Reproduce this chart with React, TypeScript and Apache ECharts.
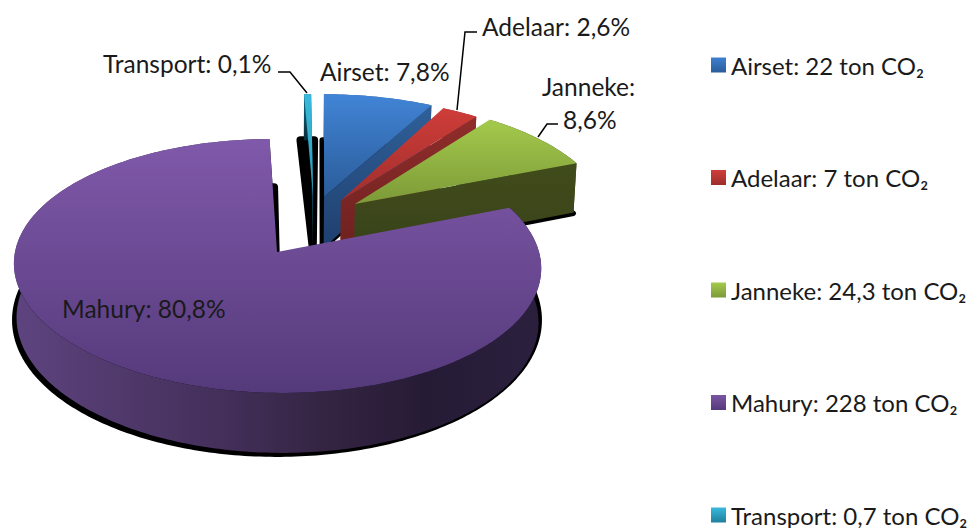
import React, { useEffect, useRef } from "react";
import * as echarts from "echarts";

const names = ["Airset", "Adelaar", "Janneke", "Mahury", "Transport"];
const tons = ["22", "7", "24,3", "228", "0,7"];
const shares = [7.8, 2.6, 8.6, 80.8, 0.1];

// explosion of each slice on the pie's plane, in radii
const offsetU = [0.18, 0.255, 0.31, 0, 0.145];
const offsetV = [0.46, 0.43, 0.4, 0, 0.46];
const skew = [5, 0, 0, -5, 0];
const minSweep = [0, 0, 0, 0, 1.8];
const shadowSweep = [0, 0, 0, 0, 3.5];
const shadowStroke = [6, 5, 5, 8, 8];
const shadowDx = [-1, -1, 0, 0, 0];
const shadowDy = [0, 0, 1, 0, 0];
const paintOrder = [1, 2, 3, 5, 4];

const topColors = [
  ["#4184d6", "#2b5c99"],
  ["#cf3d39", "#a02e2c"],
  ["#a4ca4c", "#7c9a38"],
  ["#8059aa", "#553a7b"],
  ["#38b9dc", "#2b9ab8"],
];
const wallColors = [
  ["#2f6099", "#1f3f6e"],
  ["#902d2b", "#6c2120"],
  ["#414c1b", "#38421a"],
  ["#2a1f3c", "#2a1f3c"],
  ["#11708c", "#0a2a36"],
];
const legendColors = [
  ["#3f80d0", "#2b5c99"],
  ["#cf3d39", "#9c2e2c"],
  ["#a4ca4c", "#7c9a38"],
  ["#7a55a2", "#553a7b"],
  ["#38b9dc", "#1f7f9c"],
];
const mahuryWallStops = [
  [0, "#5e4480"],
  [0.2, "#50396b"],
  [0.4, "#432f5a"],
  [0.58, "#352543"],
  [0.78, "#261b35"],
  [0.95, "#2a1f3c"],
  [1, "#2a1f3c"],
];

const CX = 277;
const CY = 252;
const RX = 262;
const RY = 125.4;
const K = 0.11;
const DEPTH = 53.4;

const rad = (d: number) => (d * Math.PI) / 180;

function project(u: number, v: number, sx: number, low: boolean) {
  const w = 1 + K * v;
  let x = CX + (RX * u + sx * v) / w;
  let y = CY - (RY * v) / w;
  if (low) {
    x = CX + (x - CX) * 0.99;
    y += DEPTH / w;
  }
  return [x, y];
}

function gradV(c: string[]) {
  return new echarts.graphic.LinearGradient(0, 0, 0, 1, [
    { offset: 0, color: c[0] },
    { offset: 1, color: c[1] },
  ]);
}

function sliceAngles(i: number, value: number) {
  let start = 0;
  for (let k = 0; k < i; k++) start += shares[k] * 3.6;
  const sweep = value * 3.6;
  const mid = start + sweep / 2;
  return { mid, sweep };
}

function arc(i: number, from: number, to: number, low: boolean, sx: number) {
  const pts: number[][] = [];
  const n = Math.max(2, Math.ceil(to - from));
  for (let s = 0; s <= n; s++) {
    const t = rad(from + ((to - from) * s) / n);
    pts.push(project(offsetU[i] + Math.sin(t), offsetV[i] + Math.cos(t), sx, low));
  }
  return pts;
}

function makeRenderItem(i: number) {
  return (_params: any, api: any) => {
    const { mid, sweep } = sliceAngles(i, api.value(0));
    const drawn = Math.max(sweep, minSweep[i]);
    const from = mid - drawn / 2;
    const to = mid + drawn / 2;
    const sx = skew[i];
    const base = paintOrder[i] * 10;

    const apexTop = project(offsetU[i], offsetV[i], sx, false);
    const apexLow = project(offsetU[i], offsetV[i], sx, true);
    const topArc = arc(i, from, to, false, sx);
    const lowArc = arc(i, from, to, true, sx);

    const sSweep = Math.max(drawn, shadowSweep[i]);
    const shadowSx = i === 3 ? 0 : sx;
    const shadowArc = arc(i, mid - sSweep / 2, mid + sSweep / 2, true, shadowSx).map((p) => [
      p[0] + shadowDx[i],
      p[1] + shadowDy[i],
    ]);
    const shadowApex = project(offsetU[i], offsetV[i], shadowSx, true);

    const wallFill =
      i === 3
        ? new echarts.graphic.LinearGradient(
            0,
            0,
            1,
            0,
            mahuryWallStops.map((s) => ({ offset: s[0] as number, color: s[1] as string }))
          )
        : gradV(wallColors[i]);

    return {
      type: "group",
      children: [
        {
          type: "polygon",
          z2: 1 + i,
          shape: { points: [[shadowApex[0] + shadowDx[i], shadowApex[1] + shadowDy[i]], ...shadowArc] },
          style: { fill: "#000", stroke: "#000", lineWidth: shadowStroke[i], lineJoin: "round" },
        },
        {
          type: "polygon",
          z2: base + 1,
          shape: { points: [...topArc, ...lowArc.slice().reverse()] },
          style: { fill: wallFill },
        },
        {
          type: "polygon",
          z2: base + 2,
          shape: { points: [topArc[topArc.length - 1], apexTop, apexLow, lowArc[lowArc.length - 1]] },
          style: { fill: i === 3 ? "#000" : gradV(wallColors[i]) },
        },
        {
          type: "polygon",
          z2: base + 3,
          shape: { points: [apexTop, ...topArc] },
          style: { fill: gradV(topColors[i]) },
        },
      ],
    };
  };
}

const labelStyle = { fontFamily: "Lato", fontSize: 24.5, fill: "#1a1a1a" };
const LINE = { stroke: "#000", lineWidth: 1.5, fill: "none" };

function pct(i: number) {
  return String(shares[i]).replace(".", ",") + "%";
}

export default function App() {
  const ref = useRef<HTMLDivElement>(null);
  useEffect(() => {
    const chart = echarts.init(ref.current!, undefined, { renderer: "svg" });
    const text = (t: string, x: number, y: number, align = "left") => ({
      type: "text",
      z: 100,
      x,
      y,
      style: { ...labelStyle, text: t, textAlign: align, textVerticalAlign: "middle" },
    });
    const leader = (points: number[][]) => ({ type: "polyline", z: 100, shape: { points }, style: LINE });
    chart.setOption({
      animation: false,
      backgroundColor: "#fff",
      legend: {
        orient: "vertical",
        left: 706,
        top: 48,
        height: 520,
        padding: 5,
        itemGap: 88.5,
        itemWidth: 15,
        itemHeight: 15,
        icon: "rect",
        selectedMode: false,
        textStyle: { fontFamily: "Lato", fontSize: 24, lineHeight: 22, color: "#1a1a1a" },
        data: names.map((n, i) => `${n}: ${tons[i]} ton CO₂`),
      },
      series: names.map((n, i) => ({
        type: "custom",
        name: `${n}: ${tons[i]} ton CO₂`,
        coordinateSystem: "none",
        silent: true,
        itemStyle: { color: gradV(legendColors[i]) },
        data: [[shares[i]]],
        renderItem: makeRenderItem(i),
      })),
      graphic: [
        text(`${names[0]}: ${pct(0)}`, 320, 71),
        text(`${names[1]}: ${pct(1)}`, 482, 26),
        text(`${names[2]}:`, 542, 86),
        text(pct(2), 563, 119),
        text(`${names[3]}: ${pct(3)}`, 62, 308),
        text(`${names[4]}: ${pct(4)}`, 103, 63),
        leader([[278, 72], [290, 72], [307, 93]]),
        leader([[477, 32], [465, 32], [457, 110]]),
        leader([[558, 124], [547, 124], [538, 137]]),
      ],
    });
    return () => chart.dispose();
  }, []);
  return <div ref={ref} style={{ position: "absolute", left: 0, top: 0, width: 977, height: 528 }} />;
}
